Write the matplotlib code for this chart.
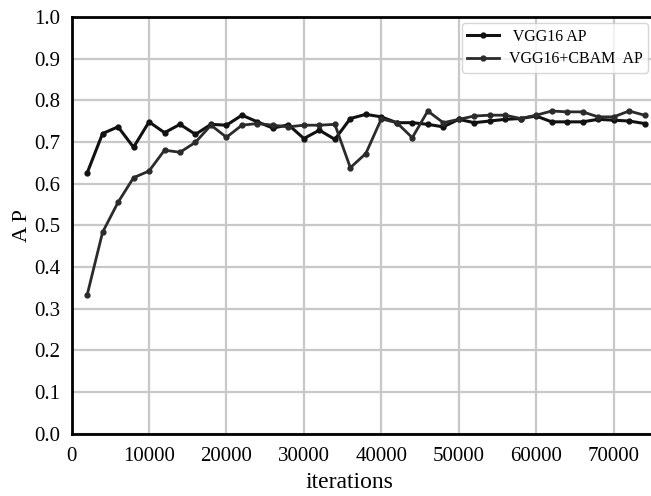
import matplotlib.pyplot as plt

# iterations (every 2000)
iterations = list(range(2000, 76000, 2000))

# VGG16 AP
vgg16_ap = [0.625, 0.720, 0.736, 0.687, 0.748, 0.722, 0.742, 0.718, 0.742, 0.740,
            0.764, 0.748, 0.733, 0.741, 0.708, 0.728, 0.706, 0.756, 0.766, 0.760,
            0.746, 0.746, 0.742, 0.736, 0.754, 0.746, 0.750, 0.754, 0.756, 0.762,
            0.748, 0.748, 0.748, 0.754, 0.752, 0.750, 0.744]

# VGG16+CBAM AP
cbam_ap = [0.332, 0.483, 0.555, 0.614, 0.630, 0.680, 0.675, 0.699, 0.740, 0.711,
           0.740, 0.744, 0.740, 0.736, 0.740, 0.740, 0.742, 0.638, 0.672, 0.755,
           0.746, 0.710, 0.774, 0.746, 0.754, 0.762, 0.764, 0.764, 0.756, 0.764,
           0.774, 0.772, 0.772, 0.760, 0.760, 0.774, 0.764]

plt.rcParams['font.family'] = ['Liberation Serif', 'DejaVu Serif']

fig = plt.figure(figsize=(6.51, 4.96), dpi=100)
ax = fig.add_axes([0.110, 0.126, 0.892, 0.840])

ax.plot(iterations, vgg16_ap, color='#111111', lw=2.2, marker='o', ms=3.5,
        label=' VGG16 AP')
ax.plot(iterations, cbam_ap, color='#2b2b2b', lw=2.0, marker='o', ms=3.5,
        label='VGG16+CBAM  AP')

ax.set_xlim(0, 75000)
ax.set_ylim(0, 1.0)
ax.set_xticks(range(0, 80000, 10000))
ax.set_yticks([i / 10 for i in range(11)])
ax.set_yticklabels([f'{i / 10:.1f}' for i in range(11)])

ax.grid(True, color='#c8c8c8', lw=1.6)
ax.set_axisbelow(True)
for side in ['left', 'bottom', 'top']:
    ax.spines[side].set_linewidth(2)
    ax.spines[side].set_color('black')
ax.spines['right'].set_visible(False)
ax.tick_params(length=0, labelsize=15)
ax.tick_params(axis='x', pad=10)
ax.tick_params(axis='y', pad=8)

ax.set_xlabel('iterations', fontsize=17)
ax.xaxis.set_label_coords(0.479, -0.092)
ax.set_ylabel('A P', fontsize=16, labelpad=2)

leg = ax.legend(loc='upper right', fontsize=11.5, frameon=True, fancybox=True,
                edgecolor='#cccccc', borderpad=0.35, handlelength=2.0,
                handletextpad=0.6, labelspacing=0.4, borderaxespad=0,
                bbox_to_anchor=(0.993, 0.985))
leg.get_frame().set_linewidth(1.0)

fig.savefig('out.png', dpi=100)
